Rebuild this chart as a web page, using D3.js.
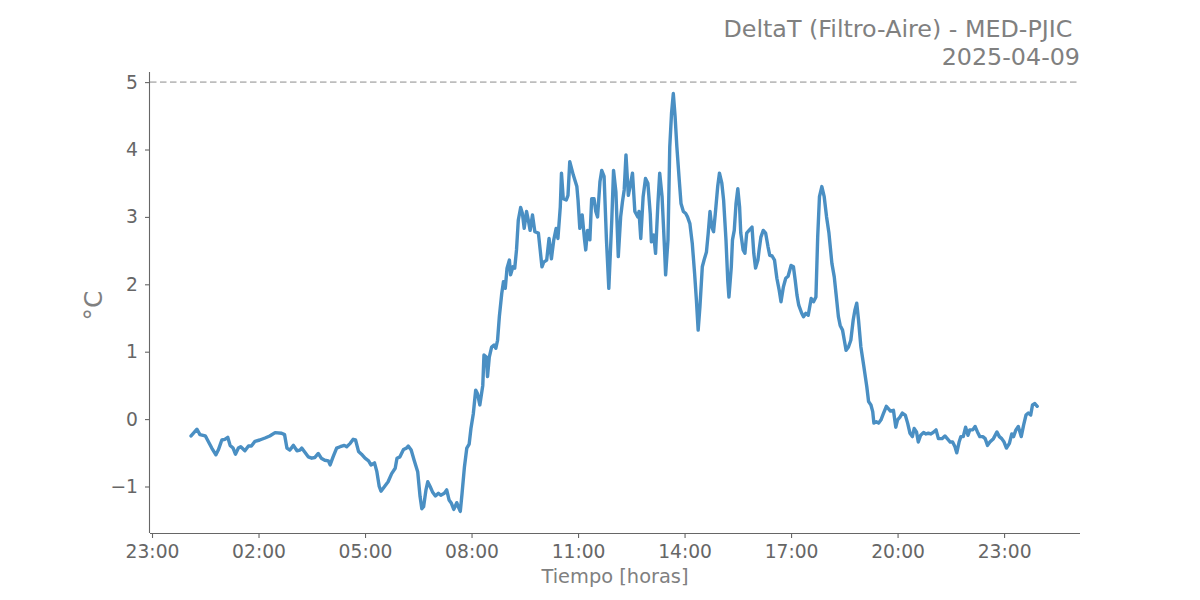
<!DOCTYPE html>
<html>
<head>
<meta charset="utf-8">
<script src="https://cdn.jsdelivr.net/npm/d3@7"></script>
<style>
  html, body { margin: 0; padding: 0; background: #fff; }
  svg { display: block; font-family: "DejaVu Sans", sans-serif; }
</style>
</head>
<body>
<svg id="chart" width="1200" height="600"></svg>
<script>
// ---- data (minutes after 00:00 of 2025-04-09, DeltaT in °C) ----
const minutes = [
  6,16,21,30,32,41,48,52,58,63,68,72,77,81,86,90,97,103,108,114,122,131,139,148,159,164,168,173,179,185,190,
  193,204,210,215,221,226,232,238,241,246,252,258,265,269,275,280,284,289,294,300,306,310,316,320,324,327,333,339,345,351,354,359,365,370,
  373,378,383,389,393,396,399,403,406,410,414,419,424,428,434,438,442,446,450,455,458,461,464,468,472,476,479,483,487,490,494,499,
  501,505,507,510,514,518,521,524,527,531,534,537,540,544,546,550,553,556,559,563,566,569,573,576,579,583,587,593,596,599,602,607,611,615,619,623,626,
  630,632,635,640,643,646,652,658,660,663,667,671,673,676,680,683,687,690,693,697,700,704,708,712,717,720,724,728,732,735,738,741,745,749,752,756,761,763,766,770,774,778,782,784,788,791,795,798,
  802,806,808,812,815,818,821,824,827,831,834,838,842,845,849,853,857,860,863,866,870,873,877,880,883,886,889,892,896,899,903,906,910,913,915,919,921,924,927,930,933,935,939,942,945,949,954,957,
  960,964,966,969,973,977,981,984,988,992,996,1000,1003,1007,1011,1015,1020,1024,1027,1030,1033,1038,1041,1045,1049,1054,1058,1062,1065,1068,1072,1076,1080,1084,1089,1093,1096,1100,1103,1107,1110,1113,1117,1121,1125,1128,1131,1134,
  1138,1143,1148,1151,1155,1158,1160,1164,1168,1172,1176,1181,1184,1188,1193,1197,1200,1204,1208,1213,1217,1221,1225,1228,1232,1235,1239,1244,1248,1252,1256,1260,1265,1269,1275,1280,1284,1289,1293,1297,1300,1304,1307,1311,1315,1319,1322,1327,1331,1335,1339,1344,1348,1352,1356,1362,1368,1372,1376,1380,1384,1389,1393,1396,1400,1404,1409,1413,1417,1421,1425,1428,1432,1436
];
const deltaT = [
  -0.25,-0.15,-0.23,-0.25,-0.28,-0.43,-0.53,-0.46,-0.31,-0.30,-0.27,-0.39,-0.43,-0.52,-0.43,-0.41,-0.47,-0.40,-0.40,-0.33,-0.31,-0.28,-0.25,-0.20,-0.21,-0.23,-0.43,-0.46,-0.39,-0.47,-0.46,
  -0.43,-0.56,-0.58,-0.57,-0.51,-0.58,-0.61,-0.62,-0.68,-0.56,-0.43,-0.41,-0.39,-0.41,-0.36,-0.30,-0.31,-0.48,-0.52,-0.58,-0.62,-0.68,-0.65,-0.78,-1.00,-1.07,-1.00,-0.93,-0.81,-0.73,-0.58,-0.56,-0.45,-0.43,
  -0.40,-0.46,-0.61,-0.78,-1.15,-1.33,-1.30,-1.05,-0.93,-1.00,-1.08,-1.14,-1.10,-1.13,-1.10,-1.05,-1.20,-1.25,-1.34,-1.24,-1.31,-1.37,-1.10,-0.71,-0.43,-0.37,-0.14,0.08,0.43,0.38,0.21,0.50,
  0.95,0.92,0.63,0.92,1.07,1.10,1.05,1.17,1.52,1.86,2.04,1.94,2.24,2.36,2.14,2.26,2.24,2.51,2.95,3.14,3.05,2.83,3.08,2.95,2.80,3.03,2.78,2.76,2.51,2.26,2.33,2.36,2.68,2.38,2.66,2.83,2.68,
  3.15,3.65,3.27,3.25,3.32,3.82,3.62,3.45,3.25,2.83,3.03,2.66,2.51,2.80,2.66,3.27,3.27,3.08,3.00,3.52,3.69,3.60,2.66,1.94,2.95,3.69,3.37,2.41,3.00,3.22,3.40,3.92,3.32,3.50,3.65,3.08,3.00,3.08,2.68,3.30,3.57,3.50,3.05,2.63,2.73,2.46,3.20,3.65,
  3.30,2.56,2.14,2.66,4.04,4.54,4.83,4.49,4.04,3.55,3.20,3.08,3.05,3.00,2.90,2.61,2.16,1.77,1.32,1.67,2.26,2.36,2.48,2.76,3.08,2.85,2.78,3.05,3.45,3.65,3.50,3.25,2.66,2.06,1.81,2.26,2.66,2.80,3.20,3.42,3.15,2.76,2.51,2.46,2.76,2.80,2.85,2.46,
  2.24,2.36,2.51,2.70,2.80,2.76,2.56,2.43,2.42,2.36,2.09,1.91,1.74,1.96,2.09,2.12,2.28,2.26,2.06,1.84,1.69,1.57,1.52,1.57,1.54,1.79,1.74,1.81,2.70,3.30,3.45,3.30,3.00,2.76,2.31,2.11,1.86,1.52,1.39,1.32,1.17,1.02,1.07,1.17,1.47,1.62,1.72,1.47,
  1.07,0.78,0.48,0.26,0.21,0.11,-0.06,-0.04,-0.06,-0.01,0.08,0.19,0.16,0.12,0.13,-0.12,-0.01,0.03,0.09,0.06,-0.06,-0.21,-0.26,-0.14,-0.19,-0.34,-0.24,-0.20,-0.22,-0.21,-0.22,-0.20,-0.16,-0.29,-0.29,-0.25,-0.29,-0.34,-0.34,-0.41,-0.50,-0.34,-0.26,-0.26,-0.12,-0.24,-0.16,-0.16,-0.11,-0.19,-0.26,-0.26,-0.29,-0.39,-0.34,-0.29,-0.19,-0.26,-0.29,-0.34,-0.43,-0.36,-0.22,-0.26,-0.16,-0.11,-0.26,-0.09,0.06,0.09,0.06,0.21,0.23,0.19
];
const xTickHours = [-1, 2, 5, 8, 11, 14, 17, 20, 23];   // 23:00 of the previous day … 23:00
const yTicks = [-1, 0, 1, 2, 3, 4, 5];
const limitValue = 5;
const titleLines = ["DeltaT (Filtro-Aire) - MED-PJIC ", "2025-04-09"];
const xLabel = "Tiempo [horas]";
const yLabel = "°C";

// ---- layout ----
const svg = d3.select("#chart");
const plotLeft = 150, plotRight = 1080, plotTop = 72, plotBottom = 533;
const day0 = Date.UTC(2025, 3, 9, 0, 0);
const toDate = m => new Date(day0 + m * 60000);

const x = d3.scaleUtc()
  .domain([toDate(-63.4), toDate(1508.3)])
  .range([plotLeft, plotRight]);
const y = d3.scaleLinear()
  .domain([-1.69, 5.15])
  .range([plotBottom, plotTop]);

const axisColor = "#666666";
const textColor = "#808080";

// dashed reference line
svg.append("line")
  .attr("x1", plotLeft).attr("x2", plotRight)
  .attr("y1", y(limitValue)).attr("y2", y(limitValue))
  .attr("stroke", "#bdbdbd").attr("stroke-width", 1.8)
  .attr("stroke-dasharray", "6.5,3.5");

// data line
const data = minutes.map((m, i) => ({ t: toDate(m), v: deltaT[i] }));
svg.append("path")
  .datum(data)
  .attr("fill", "none")
  .attr("stroke", "#4a8fc3")
  .attr("stroke-width", 3.4)
  .attr("stroke-linejoin", "round")
  .attr("stroke-linecap", "round")
  .attr("d", d3.line().x(d => x(d.t)).y(d => y(d.v)));

// axes
const xAxis = d3.axisBottom(x)
  .tickValues(xTickHours.map(h => toDate(h * 60)))
  .tickFormat(d3.utcFormat("%H:%M"))
  .tickSize(5).tickPadding(7);
const gx = svg.append("g").attr("transform", `translate(0,${plotBottom})`).call(xAxis);

const yAxis = d3.axisLeft(y)
  .tickValues(yTicks)
  .tickFormat(d => d < 0 ? "\u2212" + Math.abs(d) : d)
  .tickSize(5).tickPadding(7);
const gy = svg.append("g").attr("transform", `translate(${plotLeft},0)`).call(yAxis);

[gx, gy].forEach(g => {
  g.select(".domain").attr("stroke", axisColor).attr("stroke-width", 1.1);
  g.selectAll(".tick line").attr("stroke", axisColor).attr("stroke-width", 1.1);
  g.selectAll(".tick text").attr("fill", "#666666")
    .style("font-size", "18.7px").style("font-family", "DejaVu Sans, sans-serif");
});
gx.select(".domain").attr("d", `M${plotLeft},0.5H${plotRight}`);
gy.select(".domain").attr("d", `M-0.5,${plotTop}V${plotBottom}`);

// axis labels
svg.append("text")
  .attr("x", (plotLeft + plotRight) / 2).attr("y", 583)
  .attr("text-anchor", "middle")
  .attr("fill", textColor)
  .style("font-size", "19.4px")
  .text(xLabel);

svg.append("text")
  .attr("transform", `translate(102,${(plotTop + plotBottom) / 2 + 3}) rotate(-90)`)
  .attr("text-anchor", "middle")
  .attr("fill", textColor)
  .style("font-size", "25px")
  .text(yLabel);

// title
svg.append("text")
  .attr("x", plotRight).attr("y", 37)
  .attr("text-anchor", "end")
  .attr("fill", textColor)
  .style("font-size", "23.8px")
  .style("white-space", "pre")
  .text(titleLines[0]);
svg.append("text")
  .attr("x", plotRight).attr("y", 65)
  .attr("text-anchor", "end")
  .attr("fill", textColor)
  .style("font-size", "23.8px")
  .text(titleLines[1]);
</script>
</body>
</html>
